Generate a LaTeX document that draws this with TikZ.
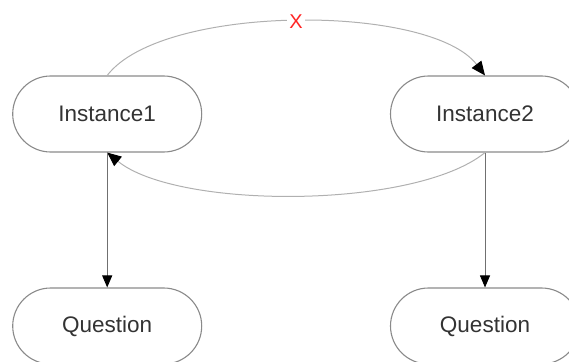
\documentclass[tikz,border=0pt]{standalone}
\usepackage{fontspec}
\setmainfont{Liberation Sans}
\usetikzlibrary{arrows.meta}
\definecolor{boxline}{HTML}{8A8A8A}
\definecolor{arcline}{HTML}{B0B0B0}
\definecolor{vline}{HTML}{707070}
\definecolor{labeltext}{HTML}{333333}
\begin{document}
\begin{tikzpicture}[x=1pt,y=-1pt,
  state/.style={draw=boxline,line width=1.1pt,rounded corners=38pt,
    minimum width=189pt,minimum height=76pt,inner sep=0pt,
    font=\fontsize{22.5}{26}\selectfont,text=labeltext},
  flow/.style={draw=arcline,line width=1pt,
    -{Triangle[length=14pt,width=12pt,color=black]}},
  down/.style={draw=vline,line width=0.9pt,
    -{Triangle[length=12pt,width=10pt,color=black]}},
  cut/.style={text=red!85!white,fill=white,inner sep=2pt,
    font=\fontsize{20}{22}\selectfont}]
  \useasboundingbox (0,0) rectangle (569,361);
  \clip (0,0) rectangle (569,361);

  % instances and their questions
  \node[state] (i1) at (107.2,114) {Instance1};
  \node[state] (i2) at (485,114) {Instance2};
  \node[state] (q1) at (107.2,326) {Question};
  \node[state] (q2) at (485,326) {Question};

  % link from Instance1 to Instance2, broken
  \draw[flow] (i1.north) .. controls +(55,-72) and +(-55,-72) .. (i2.north)
    node[cut,pos=0.5] (x) {X};
  % link back from Instance2 to Instance1
  \draw[flow] (i2.south) .. controls +(-70,57) and +(70,57) .. (i1.south);

  % each instance asks its question
  \draw[down] (i1.south) -- (q1.north);
  \draw[down] (i2.south) -- (q2.north);
\end{tikzpicture}
\end{document}
